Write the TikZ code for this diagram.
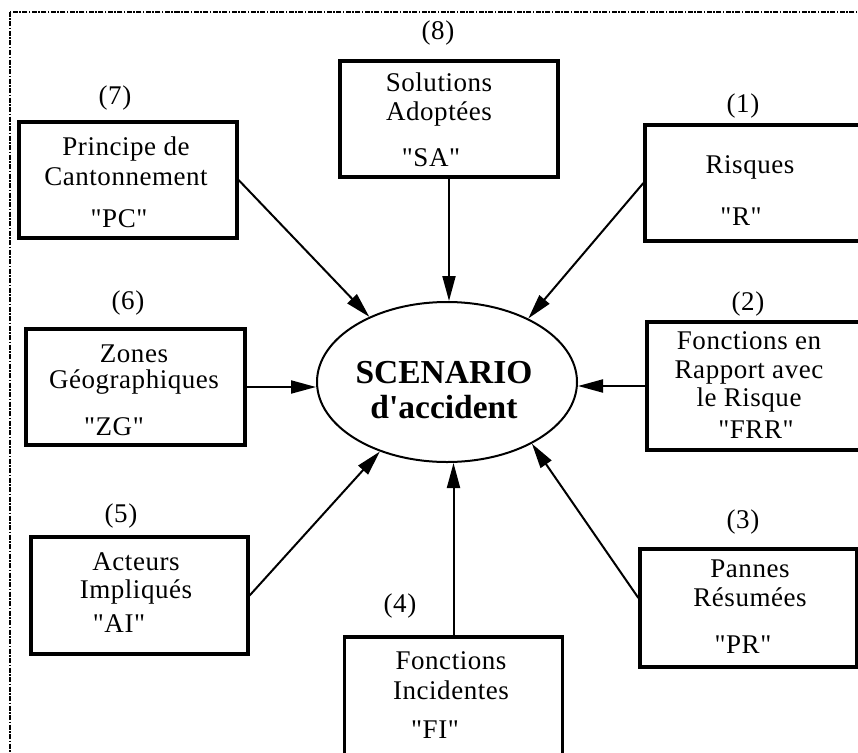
\documentclass[tikz,border=0pt]{standalone}
\usepackage{fontspec}
\setmainfont{Liberation Serif}[Ligatures=TeXOff]
\newfontfamily\boxfont{Liberation Serif}[Ligatures=TeXOff,LetterSpace=2]
\usetikzlibrary{arrows.meta,shapes.geometric,calc}
\tikzset{
  box/.style={draw,line width=3.2pt,inner sep=0pt},
  txt/.style={font=\boxfont\fontsize{27}{28}\selectfont,align=center,inner sep=0pt},
  num/.style={font=\boxfont\fontsize{27}{28}\selectfont,inner sep=0pt},
  arr/.style={line width=2pt,-{Triangle[length=25pt,width=13pt]}},
  frame/.style={line width=1.3pt,dash pattern=on 5pt off 1.5pt on 1.5pt off 1.5pt}
}
\begin{document}
\begin{tikzpicture}[x=1pt,y=-1pt]
\clip (0,0) rectangle (858,752);
\draw[frame] (10,12) rectangle (880,780);
% central ellipse
\node[draw,ellipse,line width=2pt,minimum width=260,minimum height=160,inner sep=0pt] (sc) at (447,382) {};
\node[font=\bfseries\fontsize{33.5}{35}\selectfont,align=center,inner sep=0pt] (sct) at (444,390) {SCENARIO\\d'accident};
% boxes
\node[box,minimum width=218,minimum height=116] (pc) at (128,180) {};
\node[box,minimum width=218,minimum height=116] (sa) at (449,119) {};
\node[box,minimum width=223,minimum height=116] (r) at (756.5,183) {};
\node[box,minimum width=219,minimum height=116] (zg) at (135.5,387) {};
\node[box,minimum width=221,minimum height=128] (frr) at (757.5,386) {};
\node[box,minimum width=217,minimum height=117] (ai) at (139.5,595.5) {};
\node[box,minimum width=217,minimum height=118] (pr) at (748.5,608) {};
\node[box,minimum width=218,minimum height=130] (fi) at (453.5,702) {};
% box texts
\node[txt] (pct) at (126,182) {Principe de\\[2pt]Cantonnement\\[14pt]"PC"\hspace*{14pt}};
\node[txt] (sat) at (439,120) {Solutions\\[1pt]Adoptées\\[18pt]"SA"\hspace*{16pt}};
\node[txt] (rt) at (750,191) {Risques\\[24pt]"R"\hspace*{18pt}};
\node[txt] (zgt) at (134,390) {Zones\\[-2pt]Géographiques\\[19pt]"ZG"\hspace*{40pt}};
\node[txt] (frrt) at (749,385) {Fonctions en\\[1pt]Rapport avec\\le Risque\\[4pt]\hspace*{14pt}"FRR"};
\node[txt] (ait) at (136,593) {Acteurs\\Impliqués\\[6pt]"AI"\hspace*{34pt}};
\node[txt] (prt) at (750,607) {Pannes\\[1pt]Résumées\\[19pt]"PR"\hspace*{14pt}};
\node[txt] (fit) at (451,695) {Fonctions\\[2pt]Incidentes\\[11pt]"FI"\hspace*{32pt}};
% numbers
\node[num] (n7) at (115,98) {(7)};
\node[num] (n8) at (438,33) {(8)};
\node[num] (n1) at (743,106) {(1)};
\node[num] (n6) at (128,303) {(6)};
\node[num] (n2) at (748,304) {(2)};
\node[num] (n5) at (121,516) {(5)};
\node[num] (n4) at (400,606) {(4)};
\node[num] (n3) at (743,522) {(3)};
% connectors
\draw[arr] (sa.south) -- (sa.south |- sc.north);
\draw[arr] (pc.east) -- (sc.140);
\draw[arr] (r.west) -- (sc.38);
\draw[arr] (zg.east) -- (zg.east -| sc.west);
\draw[arr] (frr.west) -- (frr.west -| sc.east);
\draw[arr] (ai.east) -- (sc.226);
\draw[arr] (fi.north) -- (fi.north |- sc.south);
\draw[arr] ($(pr.west)+(0,-10)$) -- (sc.324);
\end{tikzpicture}
\end{document}
